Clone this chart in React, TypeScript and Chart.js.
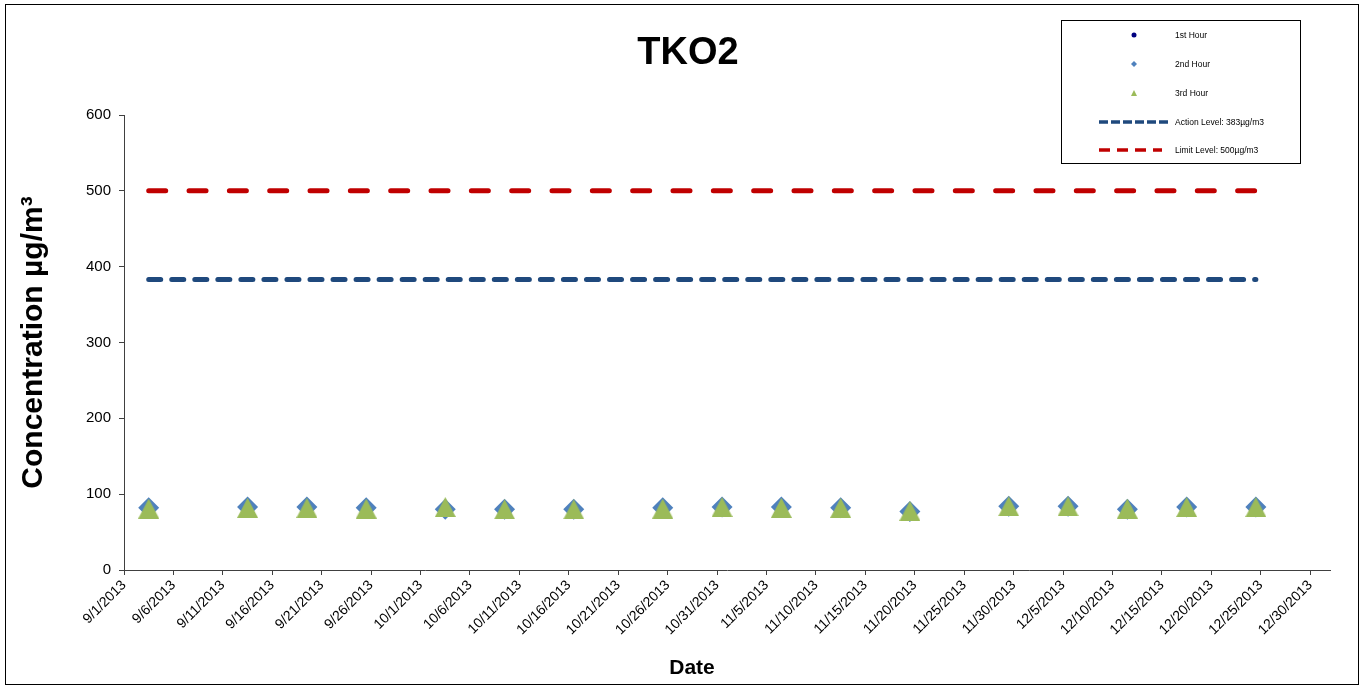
import React, { useEffect, useRef } from 'react';
import { Chart, registerables } from 'chart.js';

Chart.register(...registerables);

// ---------- data ----------
const chartTitle = 'TKO2';
const xAxisTitle = 'Date';
const yAxisTitle = 'Concentration µg/m³';

const sampleDates = [
  '9/3/2013', '9/13/2013', '9/19/2013', '9/25/2013', '10/3/2013', '10/9/2013',
  '10/16/2013', '10/25/2013', '10/31/2013', '11/6/2013', '11/12/2013', '11/19/2013',
  '11/29/2013', '12/5/2013', '12/11/2013', '12/17/2013', '12/24/2013',
];
const firstHour = [82, 82, 83, 82, 79, 80, 80, 81, 83, 82, 82, 77, 84, 84, 80, 83, 83];
const secondHour = [82, 83, 83, 82, 80, 80, 80, 82, 83, 83, 82, 77, 84, 84, 80, 83, 83];
const thirdHour = [81, 82, 82, 81, 83, 80, 80, 81, 83, 82, 82, 78, 84, 84, 81, 83, 83];
const actionLevel = 383;
const limitLevel = 500;

const seriesLabels = ['1st Hour', '2nd Hour', '3rd Hour', 'Action Level: 383µg/m3', 'Limit Level: 500µg/m3'];

const xTickLabels = [
  '9/1/2013', '9/6/2013', '9/11/2013', '9/16/2013', '9/21/2013', '9/26/2013',
  '10/1/2013', '10/6/2013', '10/11/2013', '10/16/2013', '10/21/2013', '10/26/2013',
  '10/31/2013', '11/5/2013', '11/10/2013', '11/15/2013', '11/20/2013', '11/25/2013',
  '11/30/2013', '12/5/2013', '12/10/2013', '12/15/2013', '12/20/2013', '12/25/2013',
  '12/30/2013',
];
const xAxisStart = '9/1/2013';
const xAxisEnd = '1/1/2014';
const yMin = 0;
const yMax = 600;
const yStep = 100;
const sampleTimeOfDay = 0.5; // samples taken around midday

// ---------- helpers ----------
function toUTC(s: string) {
  const [m, d, y] = s.split('/').map(Number);
  return Date.UTC(y, m - 1, d);
}
const baseUTC = toUTC(xAxisStart);
function dayIndex(s: string) {
  return Math.round((toUTC(s) - baseUTC) / 86400000);
}

const FONT = '"Liberation Sans", Arial, Helvetica, sans-serif';

const NAVY = '#000080';
const BLUE = '#4F81BD';
const GREEN = '#9BBB59';
const ACTION_BLUE = '#1F497D';
const LIMIT_RED = '#C00000';

function makeTriangle(w: number, h: number, color: string) {
  const c = document.createElement('canvas');
  c.width = w;
  c.height = h;
  const ctx = c.getContext('2d')!;
  ctx.fillStyle = color;
  ctx.beginPath();
  ctx.moveTo(w / 2, 0);
  ctx.lineTo(w, h);
  ctx.lineTo(0, h);
  ctx.closePath();
  ctx.fill();
  return c;
}

const framePlugin = {
  id: 'frameAndLegend',
  afterDraw(chart: any) {
    const ctx: CanvasRenderingContext2D = chart.ctx;
    ctx.save();
    // outer frame
    ctx.strokeStyle = '#000';
    ctx.lineWidth = 1;
    ctx.setLineDash([]);
    ctx.strokeRect(5.5, 4.5, 1353, 680);

    // chart title and x-axis title
    ctx.fillStyle = '#000';
    ctx.textAlign = 'center';
    ctx.textBaseline = 'middle';
    ctx.font = `bold 38px ${FONT}`;
    ctx.fillText(chartTitle, 688, 54);
    ctx.font = `bold 21px ${FONT}`;
    ctx.fillText(xAxisTitle, 692, 668);

    // legend box
    const bx = 1061.5, by = 20.5, bw = 239, bh = 143;
    ctx.fillStyle = '#fff';
    ctx.fillRect(bx, by, bw, bh);
    ctx.strokeRect(bx, by, bw, bh);

    const rows = [35, 64, 93, 122, 150];
    const sx = 1134;
    const textX = 1175;
    // 1st hour: circle
    ctx.fillStyle = NAVY;
    ctx.beginPath();
    ctx.arc(sx, rows[0], 2.5, 0, Math.PI * 2);
    ctx.fill();
    // 2nd hour: diamond
    ctx.fillStyle = BLUE;
    ctx.beginPath();
    ctx.moveTo(sx, rows[1] - 3);
    ctx.lineTo(sx + 3, rows[1]);
    ctx.lineTo(sx, rows[1] + 3);
    ctx.lineTo(sx - 3, rows[1]);
    ctx.closePath();
    ctx.fill();
    // 3rd hour: triangle
    ctx.fillStyle = GREEN;
    ctx.beginPath();
    ctx.moveTo(sx, rows[2] - 3);
    ctx.lineTo(sx + 3, rows[2] + 3);
    ctx.lineTo(sx - 3, rows[2] + 3);
    ctx.closePath();
    ctx.fill();
    // action line
    ctx.lineWidth = 3.5;
    ctx.strokeStyle = ACTION_BLUE;
    ctx.setLineDash([9, 3]);
    ctx.beginPath();
    ctx.moveTo(1099, rows[3]);
    ctx.lineTo(1168, rows[3]);
    ctx.stroke();
    // limit line
    ctx.strokeStyle = LIMIT_RED;
    ctx.setLineDash([11, 7]);
    ctx.beginPath();
    ctx.moveTo(1099, rows[4]);
    ctx.lineTo(1162, rows[4]);
    ctx.stroke();
    ctx.setLineDash([]);

    ctx.fillStyle = '#000';
    ctx.font = `8.5px ${FONT}`;
    ctx.textBaseline = 'middle';
    ctx.textAlign = 'left';
    seriesLabels.forEach((t, i) => ctx.fillText(t, textX, rows[i] + 0.5));
    ctx.restore();
  },
};

export default function App() {
  const ref = useRef<HTMLCanvasElement | null>(null);

  useEffect(() => {
    const canvas = ref.current;
    if (!canvas) return;
    const xs = sampleDates.map((d) => dayIndex(d) + sampleTimeOfDay);
    const pts = (vals: number[]) => vals.map((v, i) => ({ x: xs[i], y: v }));
    const firstX = xs[0];
    const lastX = xs[xs.length - 1];
    const triangle = makeTriangle(21, 20, GREEN);

    const chart = new Chart(canvas, {
      type: 'scatter',
      data: {
        datasets: [
          {
            label: seriesLabels[0],
            data: pts(firstHour),
            pointStyle: 'circle',
            pointRadius: 5,
            backgroundColor: NAVY,
            borderColor: NAVY,
            borderWidth: 0,
            order: 2,
          },
          {
            label: seriesLabels[1],
            data: pts(secondHour),
            pointStyle: 'rectRot',
            pointRadius: 10.5,
            backgroundColor: BLUE,
            borderColor: BLUE,
            borderWidth: 0,
            order: 1,
          },
          {
            label: seriesLabels[2],
            data: pts(thirdHour),
            pointStyle: triangle as any,
            pointRadius: 10,
            backgroundColor: GREEN,
            borderColor: GREEN,
            borderWidth: 0,
            order: 0,
          },
          {
            label: seriesLabels[3],
            data: [
              { x: firstX, y: actionLevel },
              { x: lastX, y: actionLevel },
            ],
            showLine: true,
            pointRadius: 0,
            borderColor: ACTION_BLUE,
            borderWidth: 5,
            borderDash: [12, 11.04],
            borderCapStyle: 'round',
            order: 3,
          } as any,
          {
            label: seriesLabels[4],
            data: [
              { x: firstX, y: limitLevel },
              { x: lastX, y: limitLevel },
            ],
            showLine: true,
            pointRadius: 0,
            borderColor: LIMIT_RED,
            borderWidth: 5,
            borderDash: [17, 23.33],
            borderCapStyle: 'round',
            order: 4,
          } as any,
        ],
      },
      options: {
        responsive: false,
        animation: false,
        devicePixelRatio: 1,
        events: [],
        layout: { padding: { left: 0, right: 41, top: 115, bottom: 0 } },
        plugins: {
          legend: { display: false },
          tooltip: { enabled: false },
          title: { display: false },
        },
        scales: {
          x: {
            type: 'linear',
            min: dayIndex(xAxisStart),
            max: dayIndex(xAxisEnd),
            afterBuildTicks: (scale: any) => {
              scale.ticks = xTickLabels.map((l) => ({ value: dayIndex(l) }));
            },
            afterFit: (scale: any) => {
              scale.height = 118;
            },
            ticks: {
              autoSkip: false,
              maxRotation: 45,
              minRotation: 45,
              color: '#000',
              padding: 2,
              font: { family: FONT, size: 14 },
              callback: (v: any) => {
                const l = xTickLabels.find((t) => dayIndex(t) === Number(v));
                return l ?? '';
              },
            },
            grid: {
              drawOnChartArea: false,
              drawTicks: true,
              tickLength: 5,
              color: '#404040',
            },
            border: { display: true, color: '#404040', width: 1 },
            title: { display: false },
          },
          y: {
            type: 'linear',
            min: yMin,
            max: yMax,
            afterFit: (scale: any) => {
              scale.width = 124;
            },
            ticks: {
              stepSize: yStep,
              color: '#000',
              padding: 8,
              font: { family: FONT, size: 15 },
            },
            grid: {
              drawOnChartArea: false,
              drawTicks: true,
              tickLength: 5,
              color: '#404040',
            },
            border: { display: true, color: '#404040', width: 1 },
            title: {
              display: true,
              text: yAxisTitle,
              color: '#000',
              font: { family: FONT, size: 30, weight: 'bold', lineHeight: 1.2 },
              padding: { top: 16, bottom: 0 },
            },
          },
        },
      },
      plugins: [framePlugin],
    } as any);

    return () => chart.destroy();
  }, []);

  return (
    <div style={{ position: 'absolute', left: 0, top: 0, width: 1371, height: 688, background: '#fff' }}>
      <canvas ref={ref} width={1371} height={688} style={{ display: 'block' }} />
    </div>
  );
}
